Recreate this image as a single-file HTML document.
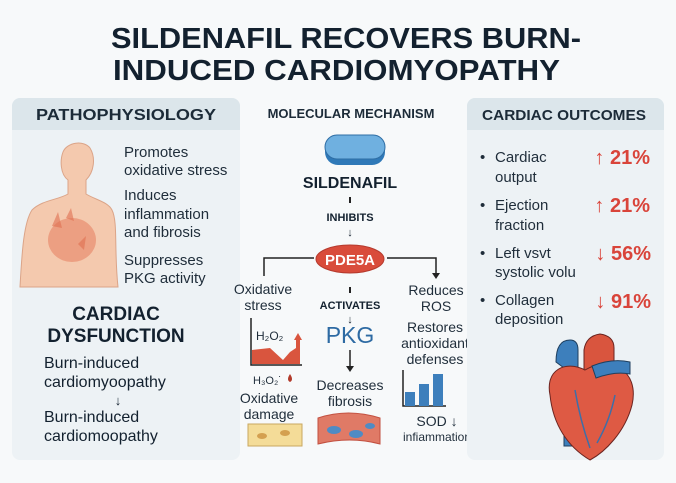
<!DOCTYPE html>
<html><head><meta charset="utf-8"><style>
html,body{margin:0;padding:0;background:#f7f9fa;}
svg{display:block;font-family:"Liberation Sans",sans-serif;}
</style></head><body>
<svg width="676" height="483" viewBox="0 0 676 483" xmlns="http://www.w3.org/2000/svg">
<rect width="676" height="483" fill="#f7f9fa"/>
<g fill="#13212f" font-weight="bold" font-size="29">
<text x="111" y="48" textLength="470" lengthAdjust="spacingAndGlyphs">SILDENAFIL RECOVERS BURN-</text>
<text x="113" y="80" textLength="447" lengthAdjust="spacingAndGlyphs">INDUCED CARDIOMYOPATHY</text>
</g>
<!-- left panel -->
<rect x="12" y="98" width="228" height="362" rx="8" fill="#edf2f5"/>
<path d="M12 106 a8 8 0 0 1 8 -8 h212 a8 8 0 0 1 8 8 v24 h-228z" fill="#dce6eb"/>
<text x="126" y="120" text-anchor="middle" font-size="16" font-weight="bold" fill="#1c2b38" textLength="180" lengthAdjust="spacingAndGlyphs">PATHOPHYSIOLOGY</text>
<!-- body -->
<path d="M20 287 C22 250 24 222 32 210 C42 200 58 200 68 194 L68 180 C60 174 60 160 63 152 C67 142 84 140 90 148 C96 158 94 172 86 180 L86 194 C96 200 108 202 112 210 C118 222 114 250 118 287 Z" fill="#f4c9ae" stroke="#dba488" stroke-width="1"/>
<ellipse cx="72" cy="240" rx="24" ry="22" fill="#e8896a" opacity="0.65"/>
<path d="M52 226 l6 -14 l4 16z M66 218 l5 -10 l3 13z M78 244 l8 -8 l-2 14z" fill="#e07050" opacity="0.6"/>
<g font-size="15" fill="#1f2d3a">
<text x="124" y="157">Promotes</text>
<text x="124" y="175">oxidative stress</text>
<text x="124" y="200">Induces</text>
<text x="124" y="219">inflammation</text>
<text x="124" y="237">and fibrosis</text>
<text x="124" y="265">Suppresses</text>
<text x="124" y="283">PKG activity</text>
</g>
<g font-size="19" font-weight="bold" fill="#13212f" text-anchor="middle">
<text x="116" y="320">CARDIAC</text>
<text x="116" y="342">DYSFUNCTION</text>
</g>
<g font-size="16" fill="#13212f">
<text x="44" y="368">Burn-induced</text>
<text x="44" y="387">cardiomyoopathy</text>
<text x="118" y="405" font-size="13" text-anchor="middle">↓</text>
<text x="44" y="422">Burn-induced</text>
<text x="44" y="441">cardiomoopathy</text>
</g>
<!-- middle -->
<text x="351" y="118" text-anchor="middle" font-size="13" font-weight="bold" fill="#1c2b38">MOLECULAR MECHANISM</text>
<rect x="325" y="139" width="60" height="26" rx="13" fill="#2f79b8"/>
<rect x="325" y="135" width="60" height="24" rx="12" fill="#6fb0e0" stroke="#2f6ea5"/>
<text x="350" y="188" text-anchor="middle" font-size="16" font-weight="bold" fill="#13212f">SILDENAFIL</text>
<line x1="350" y1="197" x2="350" y2="203" stroke="#222" stroke-width="2"/>
<text x="350" y="221" text-anchor="middle" font-size="11" font-weight="bold" fill="#13212f">INHIBITS</text>
<text x="350" y="236" text-anchor="middle" font-size="11" fill="#13212f">↓</text>
<ellipse cx="350" cy="259" rx="34" ry="14" fill="#d94c3b" stroke="#b53a2d"/>
<text x="350" y="265" text-anchor="middle" font-size="15" font-weight="bold" fill="#fff">PDE5A</text>
<path d="M314 258 H264 V276 M387 258 H436 V276" fill="none" stroke="#222" stroke-width="1.5"/>
<path d="M432 273 l4 6 l4 -6z" fill="#222"/>
<line x1="350" y1="287" x2="350" y2="293" stroke="#222" stroke-width="2"/>
<g font-size="14" fill="#1f2d3a" text-anchor="middle">
<text x="263" y="294">Oxidative</text>
<text x="263" y="310">stress</text>
<text x="436" y="295">Reduces</text>
<text x="436" y="311">ROS</text>
<text x="435" y="332">Restores</text>
<text x="435" y="348">antioxidant</text>
<text x="435" y="364">defenses</text>
<text x="350" y="390">Decreases</text>
<text x="350" y="406">fibrosis</text>
<text x="269" y="403">Oxidative</text>
<text x="269" y="419">damage</text>
<text x="437" y="426">SOD ↓</text>
<text x="437" y="441" font-size="12">infiammation</text>
</g>
<text x="350" y="309" text-anchor="middle" font-size="11" font-weight="bold" fill="#13212f">ACTIVATES</text>
<text x="350" y="323" text-anchor="middle" font-size="11" fill="#13212f">↓</text>
<text x="350" y="343" text-anchor="middle" font-size="23" fill="#2d6aa3">PKG</text>
<line x1="350" y1="350" x2="350" y2="368" stroke="#222" stroke-width="1.5"/>
<path d="M346 366 l4 6 l4 -6z" fill="#222"/>
<!-- left chart -->
<path d="M251 318 V365 H302" fill="none" stroke="#222" stroke-width="1.5"/>
<path d="M252 350 L270 348 L283 360 L290 352 L296 348 L296 337 L300 337 L300 364 L252 364z" fill="#d9553e"/>
<path d="M294 340 l4 -7 l4 7z" fill="#d9553e"/>
<text x="256" y="340" font-size="12" fill="#1f2d3a">H₂O₂</text>
<text x="253" y="384" font-size="11" fill="#1f2d3a">H₃O₂˙</text>
<path d="M290 374 q-4 6 0 8 q4 -2 0 -8z" fill="#b23a2a"/>
<rect x="248" y="424" width="54" height="22" fill="#f4dc98" stroke="#c9a860"/>
<ellipse cx="262" cy="436" rx="5" ry="3" fill="#d4a050"/><ellipse cx="285" cy="433" rx="5" ry="3" fill="#d4a050"/>
<path d="M318 418 q30 -10 62 0 v26 q-30 -8 -62 0z" fill="#e07a66" stroke="#c25040"/>
<ellipse cx="334" cy="430" rx="7" ry="4" fill="#4f8bc4"/><ellipse cx="356" cy="434" rx="7" ry="4" fill="#4f8bc4"/><ellipse cx="370" cy="426" rx="5" ry="3" fill="#4f8bc4"/>
<!-- bars -->
<path d="M403 370 V406 H446" fill="none" stroke="#222" stroke-width="1.5"/>
<rect x="405" y="392" width="10" height="14" fill="#3d7fbc"/>
<rect x="419" y="384" width="10" height="22" fill="#3d7fbc"/>
<rect x="433" y="374" width="10" height="32" fill="#3d7fbc"/>
<!-- right panel -->
<rect x="467" y="98" width="197" height="362" rx="8" fill="#edf2f5"/>
<path d="M467 106 a8 8 0 0 1 8 -8 h181 a8 8 0 0 1 8 8 v24 h-197z" fill="#dce6eb"/>
<text x="564" y="120" text-anchor="middle" font-size="15" font-weight="bold" fill="#1c2b38" textLength="164" lengthAdjust="spacingAndGlyphs">CARDIAC OUTCOMES</text>
<g font-size="15" fill="#1f2d3a">
<text x="480" y="162">•</text><text x="495" y="162">Cardiac</text><text x="495" y="182">output</text>
<text x="480" y="210">•</text><text x="495" y="210">Ejection</text><text x="495" y="230">fraction</text>
<text x="480" y="258">•</text><text x="495" y="258">Left vsvt</text><text x="495" y="277">systolic volu</text>
<text x="480" y="305">•</text><text x="495" y="305">Collagen</text><text x="495" y="324">deposition</text>
</g>
<g font-size="20" fill="#d9443a" font-weight="bold" text-anchor="end">
<text x="650" y="164">↑ 21%</text>
<text x="650" y="212">↑ 21%</text>
<text x="651" y="260">↓ 56%</text>
<text x="651" y="308">↓ 91%</text>
</g>
<!-- heart -->
<path d="M556 362 q0 -22 14 -22 q8 0 8 10 V446 h-14 V368z" fill="#3d7fbc" stroke="#1f3f5e"/>
<path d="M584 372 V350 q2 -14 16 -16 q14 2 14 14 l0 20z" fill="#d9553e" stroke="#6b2420"/>
<path d="M550 395 C545 370 565 360 585 370 C610 355 640 370 632 405 C625 432 605 452 590 460 C568 447 553 425 550 395z" fill="#de5a44" stroke="#6b2420"/>
<path d="M592 366 q20 -8 38 -4 v12 q-15 -3 -34 4z" fill="#3d7fbc" stroke="#1f3f5e"/>
<path d="M575 390 q5 30 15 58 M615 395 q-5 25 -18 48" fill="none" stroke="#3d6fa8" stroke-width="1.5"/>
</svg>
</body></html>
